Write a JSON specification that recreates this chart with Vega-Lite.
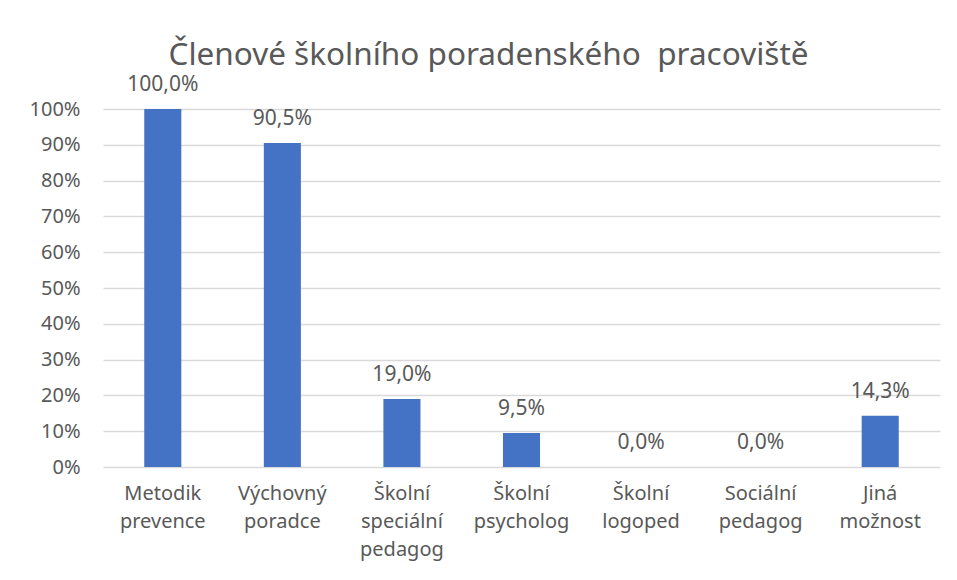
{
  "$schema": "https://vega.github.io/schema/vega-lite/v6.json",
  "width": 837,
  "height": 358,
  "autosize": {"type": "none"},
  "padding": {"left": 103, "top": 109, "right": 17, "bottom": 113},
  "background": "white",
  "title": {
    "text": "Členové školního poradenského \u00a0pracoviště",
    "anchor": "middle",
    "frame": "group",
    "baseline": "alphabetic",
    "offset": -22,
    "dx": -33,
    "font": "Noto Sans",
    "fontSize": 31.5,
    "fontWeight": "normal",
    "color": "#595959"
  },
  "data": {
    "values": [
      {"kategorie": "Metodik prevence", "podil": 1.0},
      {"kategorie": "Výchovný poradce", "podil": 0.905},
      {"kategorie": "Školní speciální pedagog", "podil": 0.19},
      {"kategorie": "Školní psycholog", "podil": 0.095},
      {"kategorie": "Školní logoped", "podil": 0.0},
      {"kategorie": "Sociální pedagog", "podil": 0.0},
      {"kategorie": "Jiná možnost", "podil": 0.143}
    ]
  },
  "encoding": {
    "x": {
      "field": "kategorie",
      "type": "nominal",
      "sort": null,
      "scale": {"paddingInner": 0.69, "paddingOuter": 0.345},
      "axis": {
        "title": null,
        "labelAngle": 0,
        "labelExpr": "split(datum.label, ' ')",
        "labelLineHeight": 28,
        "labelPadding": 16,
        "labelBaseline": "top",
        "ticks": false,
        "domain": false,
        "grid": false
      }
    },
    "y": {
      "field": "podil",
      "type": "quantitative",
      "scale": {"domain": [0, 1], "nice": false},
      "axis": {
        "title": null,
        "format": ".0%",
        "values": [0, 0.1, 0.2, 0.3, 0.4, 0.5, 0.6, 0.7, 0.8, 0.9, 1.0],
        "labelOverlap": false,
        "ticks": false,
        "domain": false,
        "labelPadding": 23,
        "gridColor": "#D9D9D9",
        "gridWidth": 1.3
      }
    }
  },
  "layer": [
    {"mark": {"type": "bar", "color": "#4472C4"}},
    {
      "mark": {"type": "text", "baseline": "alphabetic", "dy": -18, "font": "Noto Sans", "fontSize": 21, "color": "#595959"},
      "encoding": {"text": {"field": "podil", "type": "quantitative", "format": ".1%"}}
    }
  ],
  "config": {
    "locale": {
      "number": {"decimal": ",", "thousands": " ", "grouping": [3], "currency": ["", " Kč"]}
    },
    "view": {"stroke": null},
    "axis": {
      "labelFont": "Noto Sans",
      "labelFontSize": 20,
      "labelColor": "#595959"
    }
  }
}
